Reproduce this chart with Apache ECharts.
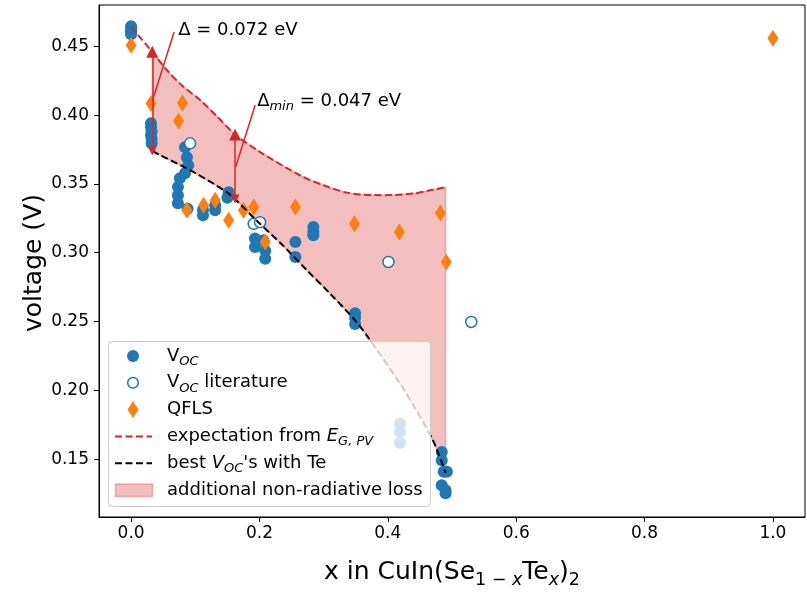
<!DOCTYPE html>
<html>
<head>
<meta charset="utf-8">
<script src="https://cdn.jsdelivr.net/npm/echarts@6/dist/echarts.min.js"></script>
<style>
  html, body { margin: 0; padding: 0; background: #fff; }
  #chart { width: 807px; height: 592px; }
</style>
</head>
<body>
<div id="chart"></div>
<script>
// Tick labels
const xTicks = [0, 0.2, 0.4, 0.6, 0.8, 1.0];
const yTicks = [0.15, 0.20, 0.25, 0.30, 0.35, 0.40, 0.45];

// Measured open-circuit voltages [x, V]
const vocMeasured = [
  [0, 0.4645], [0, 0.4623], [0, 0.4609], [0, 0.4587],
  [0.031, 0.3941], [0.031, 0.3912], [0.032, 0.3883], [0.031, 0.3855], [0.032, 0.3826], [0.032, 0.3795],
  [0.084, 0.3767], [0.087, 0.3694], [0.089, 0.3636], [0.084, 0.3578], [0.076, 0.3542],
  [0.073, 0.3477], [0.073, 0.3418], [0.073, 0.3360], [0.088, 0.3320],
  [0.112, 0.3272], [0.112, 0.3310], [0.131, 0.3309], [0.131, 0.3345],
  [0.152, 0.3440], [0.150, 0.3400],
  [0.193, 0.3103], [0.193, 0.3042], [0.206, 0.3091], [0.209, 0.3015], [0.209, 0.2956],
  [0.256, 0.3078], [0.256, 0.2969],
  [0.284, 0.3187], [0.284, 0.3150], [0.284, 0.3127],
  [0.349, 0.2561], [0.349, 0.2525], [0.349, 0.2482],
  [0.419, 0.1759], [0.419, 0.1698], [0.419, 0.1618],
  [0.484, 0.1553], [0.484, 0.1492], [0.487, 0.1408], [0.492, 0.1408],
  [0.484, 0.1310], [0.490, 0.1274], [0.490, 0.1253]
];

// Open-circuit voltages from literature [x, V]
const vocLiterature = [
  [0.092, 0.3795], [0.191, 0.3210], [0.201, 0.3222], [0.401, 0.2933], [0.530, 0.2497]
];

// Quasi-Fermi level splitting [x, V]
const qfls = [
  [0, 0.4507], [0.031, 0.4084], [0.080, 0.4088], [0.074, 0.3957],
  [0.087, 0.3309], [0.113, 0.3345], [0.131, 0.3381], [0.152, 0.3236],
  [0.175, 0.3309], [0.191, 0.3333], [0.209, 0.3078], [0.256, 0.3333],
  [0.348, 0.3210], [0.418, 0.3151], [0.482, 0.3289], [0.491, 0.2933],
  [1.0, 0.4558]
];

// Expected voltage from the PV band gap [x, V]
const expectationEg = [
  [0, 0.4640], [0.033, 0.4460], [0.056, 0.4326], [0.080, 0.4212], [0.108, 0.4108],
  [0.135, 0.3985], [0.162, 0.3860], [0.200, 0.3735], [0.263, 0.3563], [0.300, 0.3490],
  [0.341, 0.3432], [0.393, 0.3418], [0.440, 0.3430], [0.466, 0.3454], [0.490, 0.3476]
];

// Best open-circuit voltages with Te [x, V]
const bestVocTe = [
  [0.033, 0.3740], [0.045, 0.3710], [0.097, 0.3587], [0.149, 0.3441], [0.162, 0.3390],
  [0.195, 0.3236], [0.235, 0.3060], [0.274, 0.2872], [0.310, 0.2703], [0.349, 0.2509],
  [0.367, 0.2400], [0.419, 0.2049], [0.440, 0.1890], [0.471, 0.1630], [0.490, 0.1400]
];

// Loss arrows: position, lower end and stated gap in eV
const lossArrows = [
  { x: 0.033, base: 0.374, delta: 0.072 },
  { x: 0.162, base: 0.339, delta: 0.047 }
];

const FONT = 'DejaVu Sans';
const RED = '#d62728';
const BLUE = '#1f77b4';
const ORANGE = '#ff7f0e';
const FILL = 'rgba(214,39,40,0.3)';
const TOP = 100;
const SMOOTH = 0.3;

const chart = echarts.init(document.getElementById('chart'), null, { renderer: 'canvas' });

// Bezier segments through pixel points, same scheme as the line series' smoothing
function smoothSegments(pts, s) {
  const n = pts.length, out = [];
  const cps = pts.map((p, i) => {
    const prev = pts[i - 1] || p, next = pts[i + 1] || p;
    const vx = next[0] - prev[0], vy = next[1] - prev[1];
    const l0 = Math.hypot(p[0] - prev[0], p[1] - prev[1]);
    const l1 = Math.hypot(next[0] - p[0], next[1] - p[1]);
    const r = (l0 + l1) > 0 ? l1 / (l0 + l1) : 0.5;
    return {
      inC: [p[0] - vx * s * (1 - r), p[1] - vy * s * (1 - r)],
      outC: [p[0] + vx * s * r, p[1] + vy * s * r]
    };
  });
  for (let i = 0; i < n - 1; i++) {
    out.push([cps[i].outC, cps[i + 1].inC, pts[i + 1]]);
  }
  return out;
}

const richBase = {
  n: { fontFamily: FONT, fontSize: 18, lineHeight: 24, color: '#000' },
  s: { fontFamily: FONT, fontSize: 13, lineHeight: 12, verticalAlign: 'bottom', color: '#000' },
  si: { fontFamily: FONT, fontSize: 13, lineHeight: 12, fontStyle: 'italic', verticalAlign: 'bottom', color: '#000' },
  i: { fontFamily: FONT, fontSize: 18, lineHeight: 24, fontStyle: 'italic', color: '#000' }
};
// zrender-style copies (fill instead of color) for graphic elements
function zrRich(r) {
  const out = {};
  Object.keys(r).forEach(k => {
    const o = Object.assign({}, r[k]);
    o.fill = o.color; delete o.color;
    out[k] = o;
  });
  return out;
}

const annotations = [
  { at: [0.0733, 0.4616], text: '{n|Δ = 0.072 eV}', line: [[0.067, 0.4604], [0.033, 0.410]] },
  { at: [0.1964, 0.4100], text: '{n|Δ}{si|min}{n| = 0.047 eV}', line: [[0.1933, 0.4071], [0.163, 0.3625]] }
];

const legendItems = [
  '{n|V}{si|OC}',
  '{n|V}{si|OC}{n| literature}',
  '{n|QFLS}',
  '{n|expectation from }{i|E}{si|G, PV}',
  '{n|best }{i|V}{si|OC}{n|\'s with Te}',
  '{n|additional non-radiative loss}'
];

const lx = 133, ly0 = 356, ldy = 26.8, ltx = 167;
const legendChildren = [
  { type: 'rect', z: TOP, shape: { x: 108.5, y: 341.5, width: 322, height: 165, r: 4 },
    style: { fill: 'rgba(255,255,255,0.8)', stroke: '#cccccc', lineWidth: 1 } },
  { type: 'circle', z: TOP + 1, shape: { cx: lx, cy: ly0, r: 6 }, style: { fill: BLUE } },
  { type: 'circle', z: TOP + 1, shape: { cx: lx, cy: ly0 + ldy, r: 5.3 }, style: { fill: '#fff', stroke: BLUE, lineWidth: 1.5 } },
  { type: 'polygon', z: TOP + 1, shape: { points: [[lx, ly0 + 2 * ldy - 8.5], [lx + 5.5, ly0 + 2 * ldy], [lx, ly0 + 2 * ldy + 8.5], [lx - 5.5, ly0 + 2 * ldy]] },
    style: { fill: ORANGE } },
  { type: 'line', z: TOP + 1, shape: { x1: 115, y1: ly0 + 3 * ldy, x2: 152, y2: ly0 + 3 * ldy },
    style: { stroke: RED, lineWidth: 2, lineDash: [7, 3.5] } },
  { type: 'line', z: TOP + 1, shape: { x1: 115, y1: ly0 + 4 * ldy, x2: 152, y2: ly0 + 4 * ldy },
    style: { stroke: '#000', lineWidth: 2, lineDash: [7, 3.5] } },
  { type: 'rect', z: TOP + 1, shape: { x: 115.5, y: ly0 + 5 * ldy - 6, width: 37, height: 12.5 },
    style: { fill: FILL, stroke: FILL, lineWidth: 1.5 } }
];
legendItems.forEach((t, i) => {
  legendChildren.push({
    type: 'text', z: TOP + 1,
    style: { text: t, x: ltx, y: ly0 + i * ldy, verticalAlign: 'middle', align: 'left', rich: zrRich(richBase) }
  });
});

const titleRich = zrRich({
  n: { fontFamily: FONT, fontSize: 25, lineHeight: 34, color: '#000' },
  s: { fontFamily: FONT, fontSize: 17.5, lineHeight: 16, verticalAlign: 'bottom', color: '#000' },
  si: { fontFamily: FONT, fontSize: 17.5, lineHeight: 16, fontStyle: 'italic', verticalAlign: 'bottom', color: '#000' }
});

const option = {
  animation: false,
  backgroundColor: '#fff',
  grid: { left: 99, right: 2, top: 5, bottom: 75, show: true, borderColor: '#000', borderWidth: 1,
          backgroundColor: 'transparent', containLabel: false, outerBoundsMode: 'none' },
  xAxis: {
    type: 'value', min: -0.05, max: 1.05,
    splitLine: { show: false },
    axisLine: { show: true, onZero: false, lineStyle: { color: '#000', width: 1 } },
    axisTick: { show: true, inside: false, length: 5, lineStyle: { color: '#000', width: 1 }, customValues: xTicks },
    axisLabel: { show: true, customValues: xTicks, margin: 8, fontFamily: FONT, fontSize: 17, color: '#000',
                 formatter: v => v.toFixed(1) }
  },
  yAxis: {
    type: 'value', min: 0.108, max: 0.48,
    splitLine: { show: false },
    axisLine: { show: true, onZero: false, lineStyle: { color: '#000', width: 1 } },
    axisTick: { show: true, inside: false, length: 5, lineStyle: { color: '#000', width: 1 }, customValues: yTicks },
    axisLabel: { show: true, customValues: yTicks, margin: 10, fontFamily: FONT, fontSize: 17, color: '#000',
                 formatter: v => v.toFixed(2) }
  },
  graphic: [
    { type: 'group', z: TOP, children: legendChildren },
    { type: 'text', z: TOP, x: 34, y: 263, rotation: Math.PI / 2,
      style: { text: 'voltage (V)', fontFamily: FONT, fontSize: 25, fill: '#000', align: 'center', verticalAlign: 'middle' } },
    { type: 'text', z: TOP,
      style: { text: '{n|x in CuIn(Se}{s|1 − }{si|x}{n|Te}{si|x}{n|)}{s|2}', x: 452, y: 572,
               align: 'center', verticalAlign: 'middle', rich: titleRich } }
  ],
  series: [
    {
      name: 'additional non-radiative loss', type: 'custom', z: 1, clip: true,
      data: [[0.2, 0.3]],
      renderItem: function (params, api) {
        const x0 = bestVocTe[0][0], x1 = bestVocTe[bestVocTe.length - 1][0];
        const upperAll = expectationEg.map(p => api.coord(p));
        // upper boundary: smoothed expectation curve restricted to [x0, x1]
        const segsU = smoothSegments(upperAll, SMOOTH);
        const startIdx = expectationEg.findIndex(p => p[0] >= x0 - 1e-9);
        const endIdx = expectationEg.findIndex(p => p[0] >= x1 - 1e-9);
        const lower = bestVocTe.map(p => api.coord(p));
        const segsL = smoothSegments(lower.slice().reverse(), SMOOTH);
        const f = v => v.toFixed(2);
        let d = 'M' + f(upperAll[startIdx][0]) + ' ' + f(upperAll[startIdx][1]);
        for (let i = startIdx; i < endIdx; i++) {
          const sg = segsU[i];
          d += ' C' + sg.map(q => f(q[0]) + ' ' + f(q[1])).join(' ');
        }
        const lr = lower.slice().reverse();
        d += ' L' + f(lr[0][0]) + ' ' + f(lr[0][1]);
        segsL.forEach(sg => { d += ' C' + sg.map(q => f(q[0]) + ' ' + f(q[1])).join(' '); });
        d += ' Z';
        return { type: 'path', shape: { pathData: d },
                 style: { fill: FILL, stroke: FILL, lineWidth: 1.5 } };
      }
    },
    {
      name: 'VOC', type: 'scatter', z: 2, data: vocMeasured, symbol: 'circle', symbolSize: 12,
      itemStyle: { color: BLUE, opacity: 1 }
    },
    {
      name: 'VOC literature', type: 'scatter', z: 3, data: vocLiterature, symbol: 'circle', symbolSize: 11,
      itemStyle: { color: '#fff', borderColor: BLUE, borderWidth: 1.5, opacity: 1 }
    },
    {
      name: 'QFLS', type: 'scatter', z: 4, data: qfls, symbol: 'diamond', symbolSize: [11, 17],
      itemStyle: { color: ORANGE, opacity: 1 }
    },
    {
      name: 'expectation from EG,PV', type: 'line', z: 5, data: expectationEg, showSymbol: false, symbol: 'none',
      smooth: SMOOTH, lineStyle: { color: RED, width: 2, type: [7, 3.5] }
    },
    {
      name: 'best VOC with Te', type: 'line', z: 5, data: bestVocTe, showSymbol: false, symbol: 'none',
      smooth: SMOOTH, lineStyle: { color: '#000', width: 2, type: [7, 3.5] }
    },
    {
      name: 'loss arrows', type: 'lines', coordinateSystem: 'cartesian2d', z: 6,
      symbol: ['triangle', 'triangle'], symbolSize: [9, 12],
      lineStyle: { color: RED, width: 1.5, opacity: 1 },
      itemStyle: { color: RED },
      data: lossArrows.map(a => ({ coords: [[a.x, a.base], [a.x, a.base + a.delta]] }))
    },
    {
      name: 'annotation connectors', type: 'lines', coordinateSystem: 'cartesian2d', z: 6,
      symbol: ['none', 'none'],
      lineStyle: { color: RED, width: 1.5, opacity: 1 },
      data: annotations.map(a => ({ coords: a.line }))
    },
    {
      name: 'annotation text', type: 'scatter', z: 7, symbolSize: 0, silent: true,
      data: annotations.map(a => ({ value: a.at, label: { formatter: a.text } })),
      label: { show: true, position: 'right', distance: 0, color: '#000', opacity: 1, rich: richBase },
      itemStyle: { opacity: 1 }
    }
  ]
};

chart.setOption(option);
</script>
</body>
</html>
